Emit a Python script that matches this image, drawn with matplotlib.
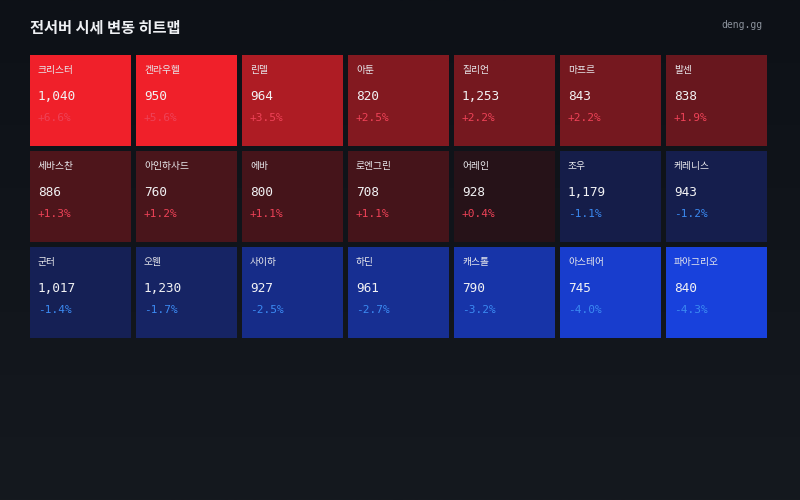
import numpy as np
import matplotlib
matplotlib.use("Agg")
import matplotlib.pyplot as plt
from matplotlib.colors import LinearSegmentedColormap, Normalize, to_rgb
from matplotlib.patches import Rectangle

# 서버별 시세 데이터
servers = ["크리스터", "켄라우헬", "린델", "아툰", "질리언", "마프르", "발센",
           "세바스찬", "아인하사드", "에바", "로엔그린", "어레인", "조우", "케레니스",
           "군터", "오웬", "사이하", "하딘", "캐스톨", "아스테어", "파아그리오"]
prices = [1040, 950, 964, 820, 1253, 843, 838,
          886, 760, 800, 708, 928, 1179, 943,
          1017, 1230, 927, 961, 790, 745, 840]
changes = [6.6, 5.6, 3.5, 2.5, 2.2, 2.2, 1.9,
           1.3, 1.2, 1.1, 1.1, 0.4, -1.1, -1.2,
           -1.4, -1.7, -2.5, -2.7, -3.2, -4.0, -4.3]

ncols = 7
nrows = 3

KR = ["Noto Sans CJK KR", "DejaVu Sans"]
MONO = "DejaVu Sans Mono"

# blue -> dark -> red, clipped at +-5%
cmap = LinearSegmentedColormap.from_list("heat", ["#1948fa", "#141116", "#f0202a"])
norm = Normalize(vmin=-5, vmax=5, clip=True)

fig = plt.figure(figsize=(8, 5), dpi=100)

# background gradient
bg = fig.add_axes([0, 0, 1, 1])
top = np.array(to_rgb("#0d1117"))
bot = np.array(to_rgb("#15191f"))
t = np.linspace(0, 1, 256)[:, None]
grad = (top * (1 - t) + bot * t)[:, None, :]
bg.imshow(grad, aspect="auto", extent=[0, 1, 0, 1])
bg.set_axis_off()

fig.text(30 / 800, 1 - 28 / 500, "전서버 시세 변동 히트맵", family=KR, fontsize=11,
         fontweight="bold", color="#eef0f3", va="center", ha="left")
fig.text(762 / 800, 1 - 25 / 500, "deng.gg", family=MONO, fontsize=7,
         color="#8b929c", va="center", ha="right")

# grid area: 7 x 3 cells, pitch 106 x 96 px
ax = fig.add_axes([30 / 800, 1 - 343 / 500, 742 / 800, 288 / 500])
ax.set_xlim(0, ncols)
ax.set_ylim(nrows, 0)
ax.set_axis_off()

cw = 101 / 106
ch = 91 / 96

for i, (name, price, pct) in enumerate(zip(servers, prices, changes)):
    r, c = divmod(i, ncols)
    ax.add_patch(Rectangle((c, r), cw, ch, facecolor=cmap(norm(pct)), edgecolor="none"))
    x = c + 8 / 106
    ax.text(x, r + 15 / 96, name, family=KR, fontsize=7, color="#e8e8ec",
            va="center", ha="left")
    ax.text(x, r + 41 / 96, f"{price:,}", family=MONO, fontsize=9.2, color="#f2f2f4",
            va="center", ha="left")
    pcol = "#ee4257" if pct > 0 else "#3b8af2"
    ax.text(x, r + 63 / 96, f"{pct:+.1f}%", family=MONO, fontsize=8, color=pcol,
            va="center", ha="left")

fig.savefig("out.png", dpi=100)
